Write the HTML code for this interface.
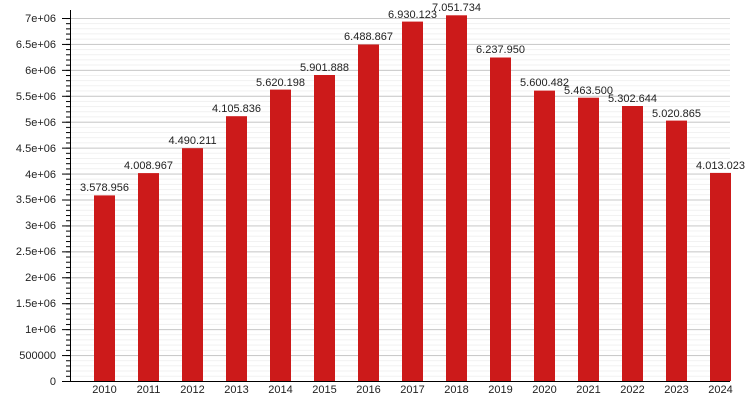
<!DOCTYPE html>
<html><head><style>body{margin:0;background:#fff}svg{display:block}text{font-family:"Liberation Sans",sans-serif;font-size:11px;fill:#222}</style></head><body>
<svg width="750" height="400" viewBox="0 0 750 400">
<defs><pattern id="mg" x="70" y="18" width="660" height="5.1857" patternUnits="userSpaceOnUse"><line x1="0" x2="660" y1="0.25" y2="0.25" stroke="#ececec" stroke-width="0.8"/></pattern>
<pattern id="Mg" x="70" y="18" width="660" height="25.9286" patternUnits="userSpaceOnUse"><line x1="0" x2="660" y1="0.5" y2="0.5" stroke="#c8c8c8" stroke-width="1"/></pattern>
<pattern id="mt" x="66" y="18" width="4" height="5.1857" patternUnits="userSpaceOnUse"><line x1="0" x2="4" y1="0.5" y2="0.5" stroke="#000" stroke-width="1"/></pattern>
<pattern id="Mt" x="62" y="18" width="8" height="25.9286" patternUnits="userSpaceOnUse"><line x1="0" x2="8" y1="0.5" y2="0.5" stroke="#000" stroke-width="1"/></pattern></defs>
<rect x="70" y="18" width="660" height="363" fill="url(#mg)"/>
<rect x="70" y="18" width="660" height="363" fill="url(#Mg)"/>
<rect x="66" y="18" width="4" height="363" fill="url(#mt)"/>
<rect x="62" y="18" width="8" height="364" fill="url(#Mt)"/>
<g fill="#cc1a1a">
<rect x="94" y="195.4" width="21" height="185.6"/>
<rect x="138" y="173.1" width="21" height="207.9"/>
<rect x="182" y="148.2" width="21" height="232.8"/>
<rect x="226" y="116.2" width="21" height="264.8"/>
<rect x="270" y="89.6" width="21" height="291.4"/>
<rect x="314" y="75" width="21" height="306"/>
<rect x="358" y="44.5" width="21" height="336.5"/>
<rect x="402" y="21.6" width="21" height="359.4"/>
<rect x="446" y="15.3" width="21" height="365.7"/>
<rect x="490" y="57.5" width="21" height="323.5"/>
<rect x="534" y="90.6" width="21" height="290.4"/>
<rect x="578" y="97.7" width="21" height="283.3"/>
<rect x="622" y="106" width="21" height="275"/>
<rect x="666" y="120.6" width="21" height="260.4"/>
<rect x="710" y="172.9" width="21" height="208.1"/>
</g>
<line x1="70.5" y1="10" x2="70.5" y2="381" stroke="#000"/>
<line x1="70" y1="381.5" x2="730" y2="381.5" stroke="#000"/>
<g text-anchor="end">
<text x="56" y="22">7e+06</text><text x="56" y="48">6.5e+06</text><text x="56" y="74">6e+06</text><text x="56" y="100">5.5e+06</text><text x="56" y="126">5e+06</text><text x="56" y="152">4.5e+06</text><text x="56" y="178">4e+06</text><text x="56" y="203">3.5e+06</text><text x="56" y="229">3e+06</text><text x="56" y="255">2.5e+06</text><text x="56" y="281">2e+06</text><text x="56" y="307">1.5e+06</text><text x="56" y="333">1e+06</text><text x="56" y="359">500000</text><text x="56" y="385">0</text>
</g>
<g text-anchor="middle">
<text x="104.5" y="393">2010</text><text x="148.5" y="393">2011</text><text x="192.5" y="393">2012</text><text x="236.5" y="393">2013</text><text x="280.5" y="393">2014</text><text x="324.5" y="393">2015</text><text x="368.5" y="393">2016</text><text x="412.5" y="393">2017</text><text x="456.5" y="393">2018</text><text x="500.5" y="393">2019</text><text x="544.5" y="393">2020</text><text x="588.5" y="393">2021</text><text x="632.5" y="393">2022</text><text x="676.5" y="393">2023</text><text x="720.5" y="393">2024</text>
<text x="104.5" y="191">3.578.956</text><text x="148.5" y="169">4.008.967</text><text x="192.5" y="144">4.490.211</text><text x="236.5" y="112">4.105.836</text><text x="280.5" y="86">5.620.198</text><text x="324.5" y="71">5.901.888</text><text x="368.5" y="40">6.488.867</text><text x="412.5" y="18">6.930.123</text><text x="456.5" y="11">7.051.734</text><text x="500.5" y="53">6.237.950</text><text x="544.5" y="86">5.600.482</text><text x="588.5" y="94">5.463.500</text><text x="632.5" y="102">5.302.644</text><text x="676.5" y="117">5.020.865</text><text x="720.5" y="169">4.013.023</text>
</g>
</svg>
</body></html>
